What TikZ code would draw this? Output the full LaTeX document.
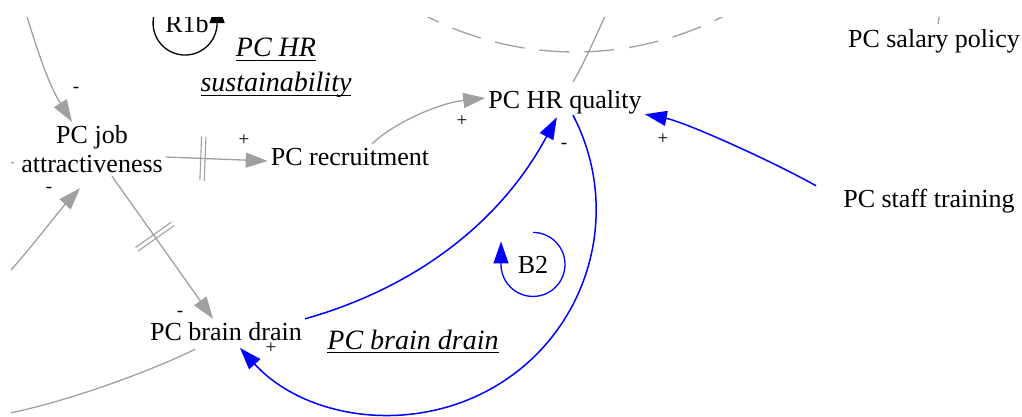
\documentclass[tikz,border=0pt]{standalone}
\usepackage{fontspec}
\setmainfont{Liberation Serif}
\usetikzlibrary{arrows.meta,decorations.markings}
\definecolor{lgray}{RGB}{160,160,160}
\definecolor{vblue}{RGB}{0,0,255}
\newcommand\vul[1]{\setbox0=\hbox{#1}\rlap{\copy0}\vrule width\wd0 height -3pt depth 4.3pt\relax}
\begin{document}
\begin{tikzpicture}[x=1pt,y=-1pt,
  var/.style={font=\fontsize{26}{29.7}\selectfont, inner sep=3pt, text height=18pt, text depth=6pt},
  pol/.style={font=\fontsize{19}{22}\selectfont, inner sep=0pt},
  looplbl/.style={font=\fontsize{26}{30}\selectfont, inner sep=0pt},
  ital/.style={font=\itshape\fontsize{28}{35}\selectfont, inner sep=0pt, align=center},
  gline/.style={draw=lgray, line width=1.3pt},
  garrow/.style={gline, -{Triangle[length=22pt,width=15pt]}},
  barrow/.style={draw=vblue, line width=1.5pt, -{Triangle[length=22pt,width=15pt]}},
  karrow/.style={draw=black, line width=1.5pt, -{Triangle[length=22pt,width=15pt]}},
  delay/.style={postaction={decorate, decoration={markings, mark=at position #1 with {\draw[lgray, line width=1.1pt, -] (-2.2pt,-22pt) -- (-2.2pt,22pt) (2.2pt,-22pt) -- (2.2pt,22pt);}}}}
]
\useasboundingbox (0,0) rectangle (1022,416);
\clip (11,17) rectangle (1022,416);

% variables
\node[var, anchor=base] (hrq) at (565,108) {PC HR quality};
\node[var, anchor=base] (rec) at (350,165) {PC recruitment};
\node[var, anchor=base] (sal) at (934,47) {PC salary policy};
\node[var, anchor=base] (st) at (929,207) {PC staff training};
\node[var, anchor=base] (bd) at (226,340) {PC brain drain};
\node[font=\fontsize{26}{29.7}\selectfont, inner sep=3pt, align=center] (ja) at (92,149) {PC job\\attractiveness};

% loop labels
\node[looplbl, anchor=base] (r1b) at (187,32) {R1b};
\node[looplbl, anchor=base] (b2) at (533,273) {B2};
\node[ital] (lhr) at (276,68) {\vul{PC HR}\\\vul{sustainability}};
\node[ital, anchor=base] (lbd) at (413,349) {\vul{PC brain drain}};

% polarity labels
\node[pol] (p1) at (76,90) {-};
\node[pol] (p2) at (49,190) {-};
\node[pol] (p3) at (244,140) {+};
\node[pol] (p4) at (462,121) {+};
\node[pol] (p5) at (180,314) {-};
\node[pol] (p6) at (271,348) {+};
\node[pol] (p7) at (564,146) {-};
\node[pol] (p8) at (663,139) {+};

% free ends outside the frame
\coordinate (tl) at (22,0);
\coordinate (bl) at (0,282);
\coordinate (tk) at (0,161);
\coordinate (ht) at (612,0);
\coordinate (sl) at (942,0);
\coordinate (bo) at (0,415);

% dashed loop arc
\draw[lgray, line width=1.3pt, dash pattern=on 30pt off 15pt] (412,8.3) arc[start angle=120, end angle=55, radius=326];

% gray connectors
\draw[garrow] (tl) .. controls (34,40) and (47,82) .. ([xshift=-20pt]ja.north);
\draw[garrow] (bl) .. controls (30,250) and (58,212) .. ([xshift=-12pt,yshift=-12pt]ja.south);
\draw[gline] (tk) -- ([xshift=-4pt,yshift=-14pt]ja.west);
\draw[garrow, delay=37pt] ([yshift=-8pt]ja.east) -- ([yshift=-2pt]rec.west);
\draw[garrow, delay=74pt] ([xshift=20pt]ja.south) -- ([xshift=-13pt]bd.north);
\draw[garrow] ([xshift=22pt]rec.north) .. controls (395,122) and (440,103) .. ([yshift=4pt]hrq.west);
\draw[gline] ([xshift=8pt,yshift=5pt]hrq.north) .. controls (585,62) and (601,25) .. (ht);
\draw[gline] ([xshift=4pt,yshift=2pt]sal.north) -- (sl);
\draw[gline] ([xshift=-31pt]bd.south) .. controls (160,367) and (70,402) .. (bo);

% blue connectors
\draw[barrow] (bd.north east) .. controls (418,287) and (502,220) .. (hrq);
\draw[barrow] ([xshift=8pt,yshift=2pt]hrq.south) arc[start angle=-27.5, end angle=137.6, radius=204.9];
\draw[barrow] ([xshift=-24pt]st.north west) .. controls (772,161) and (685,122) .. ([yshift=3pt]hrq.south east);

% loop symbols
\draw[barrow, line width=1.3pt] ([yshift=32pt]b2.center) arc[start angle=-90, end angle=180, radius=32] -- ++(0,-23);
\draw[karrow, line width=1.3pt] ([xshift=-32pt,yshift=11pt]r1b.center) arc[start angle=200, end angle=0, radius=32] -- ++(0,-22);
\end{tikzpicture}
\end{document}
